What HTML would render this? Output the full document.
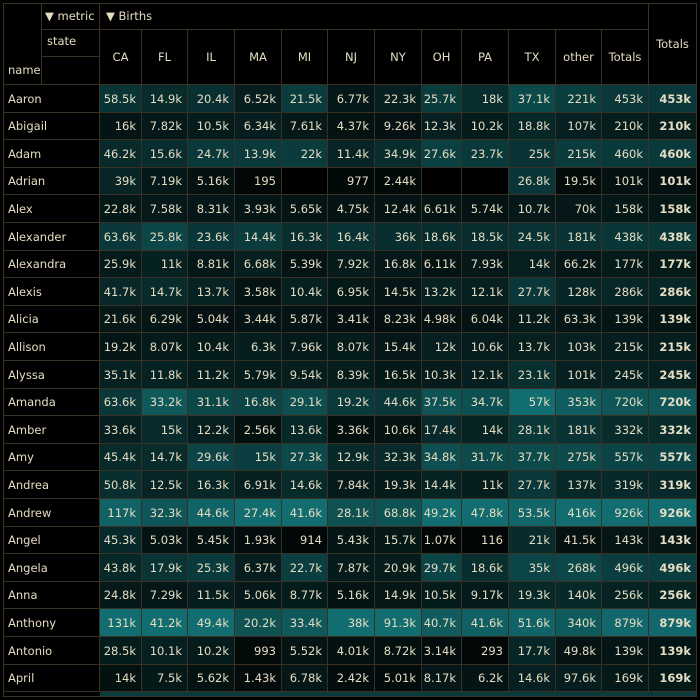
<!DOCTYPE html>
<html><head><meta charset="utf-8">
<style>
html,body{margin:0;padding:0;background:#000;width:700px;height:700px;overflow:hidden}
#t{position:relative;width:700px;height:700px;font-family:"DejaVu Sans","Liberation Sans",sans-serif;font-size:11.5px;color:#e6dcc2}
.c{position:absolute;box-sizing:border-box;border-right:1px solid #3a3024;border-bottom:1px solid #3a3024;white-space:nowrap;overflow:hidden}
.n{text-align:right;padding-right:5px;line-height:27px}
</style></head><body>
<div id="t"></div>
<script>
const states=["CA","FL","IL","MA","MI","NJ","NY","OH","PA","TX","other","Totals"];
const names=["Aaron","Abigail","Adam","Adrian","Alex","Alexander","Alexandra","Alexis","Alicia","Allison","Alyssa","Amanda","Amber","Amy","Andrea","Andrew","Angel","Angela","Anna","Anthony","Antonio","April"];
const births=[
["58.5k","14.9k","20.4k","6.52k","21.5k","6.77k","22.3k","25.7k","18k","37.1k","221k","453k"],
["16k","7.82k","10.5k","6.34k","7.61k","4.37k","9.26k","12.3k","10.2k","18.8k","107k","210k"],
["46.2k","15.6k","24.7k","13.9k","22k","11.4k","34.9k","27.6k","23.7k","25k","215k","460k"],
["39k","7.19k","5.16k","195","","977","2.44k","","","26.8k","19.5k","101k"],
["22.8k","7.58k","8.31k","3.93k","5.65k","4.75k","12.4k","6.61k","5.74k","10.7k","70k","158k"],
["63.6k","25.8k","23.6k","14.4k","16.3k","16.4k","36k","18.6k","18.5k","24.5k","181k","438k"],
["25.9k","11k","8.81k","6.68k","5.39k","7.92k","16.8k","6.11k","7.93k","14k","66.2k","177k"],
["41.7k","14.7k","13.7k","3.58k","10.4k","6.95k","14.5k","13.2k","12.1k","27.7k","128k","286k"],
["21.6k","6.29k","5.04k","3.44k","5.87k","3.41k","8.23k","4.98k","6.04k","11.2k","63.3k","139k"],
["19.2k","8.07k","10.4k","6.3k","7.96k","8.07k","15.4k","12k","10.6k","13.7k","103k","215k"],
["35.1k","11.8k","11.2k","5.79k","9.54k","8.39k","16.5k","10.3k","12.1k","23.1k","101k","245k"],
["63.6k","33.2k","31.1k","16.8k","29.1k","19.2k","44.6k","37.5k","34.7k","57k","353k","720k"],
["33.6k","15k","12.2k","2.56k","13.6k","3.36k","10.6k","17.4k","14k","28.1k","181k","332k"],
["45.4k","14.7k","29.6k","15k","27.3k","12.9k","32.3k","34.8k","31.7k","37.7k","275k","557k"],
["50.8k","12.5k","16.3k","6.91k","14.6k","7.84k","19.3k","14.4k","11k","27.7k","137k","319k"],
["117k","32.3k","44.6k","27.4k","41.6k","28.1k","68.8k","49.2k","47.8k","53.5k","416k","926k"],
["45.3k","5.03k","5.45k","1.93k","914","5.43k","15.7k","1.07k","116","21k","41.5k","143k"],
["43.8k","17.9k","25.3k","6.37k","22.7k","7.87k","20.9k","29.7k","18.6k","35k","268k","496k"],
["24.8k","7.29k","11.5k","5.06k","8.77k","5.16k","14.9k","10.5k","9.17k","19.3k","140k","256k"],
["131k","41.2k","49.4k","20.2k","33.4k","38k","91.3k","40.7k","41.6k","51.6k","340k","879k"],
["28.5k","10.1k","10.2k","993","5.52k","4.01k","8.72k","3.14k","293","17.7k","49.8k","139k"],
["14k","7.5k","5.62k","1.43k","6.78k","2.42k","5.01k","8.17k","6.2k","14.6k","97.6k","169k"]
];
const grand=["453k","210k","460k","101k","158k","438k","177k","286k","139k","215k","245k","720k","332k","557k","319k","926k","143k","496k","256k","879k","139k","169k"];
const colX=[100,142,188,235,282,328,375,422,462,509,556,602,649,697];
const T=document.getElementById('t');
function num(s){if(!s)return 0;return s.endsWith('k')?parseFloat(s)*1000:parseFloat(s);}
function cell(x,y,w,h,txt,cls,name){const d=document.createElement('div');d.className='c '+(cls||'');d.style.left=x+'px';d.style.top=y+'px';d.style.width=w+'px';d.style.height=h+'px';d.textContent=txt;


T.appendChild(d);return d;}
function color(v,max){const f=Math.min(1,v/(max*1.15));const r=Math.round(2+f*(20-2)),g=Math.round(6+f*(124-6)),b=Math.round(6+f*(128-6));return `rgb(${r},${g},${b})`;}
let d=cell(3,3,694,694,'','', 'table-border');d.style.border='1px solid #3a3024';
cell(3,3,39,82,'','','corner-cell');
d=cell(42,3,58,27,'▼ metric','', 'metric-filter');d.style.padding='6px 0 0 3px';
d=cell(42,30,58,27,'state','', 'state-label');d.style.padding='4px 0 0 5px';
d=cell(3,57,39,28,'name','', 'name-label');d.style.padding='6px 0 0 5px';
cell(42,57,58,28,'','','blank-cell');
d=cell(100,3,549,27,'▼ Births','', 'births-header');d.style.padding='6px 0 0 6px';
d=cell(649,3,48,82,'Totals','', 'grand-totals-header');d.style.textAlign='center';d.style.paddingTop='34px';
states.forEach((s,i)=>{const e=cell(colX[i],30,colX[i+1]-colX[i],55,s,'', 'col-header-'+s.toLowerCase());e.style.textAlign='center';e.style.lineHeight='55px';});
const rowTop=85,rowH=27.6;
const maxes=states.map((s,j)=>Math.max(...births.map(r=>num(r[j]))));
const gmax=Math.max(...grand.map(num));
names.forEach((n,i)=>{const y=Math.round(rowTop+i*rowH),h=Math.round(rowTop+(i+1)*rowH)-y;
 const e=cell(3,y,97,h,n,'', 'row-label');e.style.paddingLeft='5px';e.style.lineHeight=h+'px';
 states.forEach((s,j)=>{const v=births[i][j];const c=cell(colX[j],y,colX[j+1]-colX[j],h,v,'n','cell-'+s.toLowerCase());c.style.lineHeight=h+'px';if(v)c.style.background=color(num(v),maxes[j]);});
 const g=cell(649,y,48,h,grand[i],'n','grand-total');g.style.lineHeight=h+'px';g.style.fontWeight='bold';g.style.background=color(num(grand[i]),gmax);
});
const yb=Math.round(rowTop+names.length*rowH);
const p=cell(100,yb,597,697-yb,'','','next-row-partial');p.style.background='#0b3a3c';
</script>
</body></html>
